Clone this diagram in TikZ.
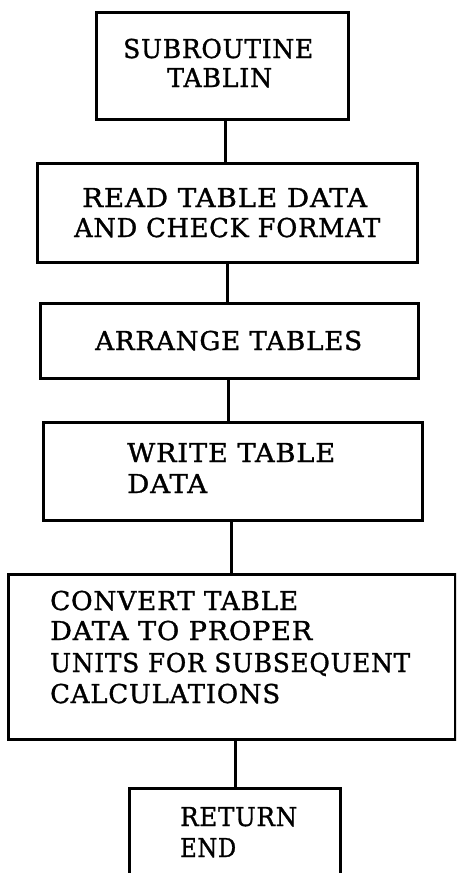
\documentclass[tikz,border=0pt]{standalone}
\usepackage{graphicx}
\usepackage{fontspec}
\setmainfont{DejaVu Serif}[LetterSpace=3, FakeBold=1.2]
% set a line of text to a given width, keeping its height
\newcommand\fitw[2]{\resizebox{#1pt}{\height}{#2}}
\begin{document}
\begin{tikzpicture}[x=1pt,y=-1pt]
\tikzset{
  flowbox/.style={draw=black, line width=3pt, inner sep=0pt, rectangle},
  caption/.style={inner sep=0pt, font=\fontsize{26}{31}\selectfont},
  link/.style={draw=black, line width=3pt}
}
\useasboundingbox (0,0) rectangle (456,873);
\clip (0,0) rectangle (456,873);

% boxes of the flow
\node[flowbox, minimum width=252, minimum height=107] (b1) at (222,65.5) {};
\node[flowbox, minimum width=380, minimum height=99]  (b2) at (227,212.5) {};
\node[flowbox, minimum width=378, minimum height=75]  (b3) at (229,340.5) {};
\node[flowbox, minimum width=379, minimum height=98]  (b4) at (232.5,471) {};
\node[flowbox, minimum width=447, minimum height=165] (b5) at (231.5,656.5) {};
% the last box runs off the lower edge of the sheet
\node[flowbox, minimum width=211, minimum height=102] (b6) at (234.5,839) {};

% labels
\node[caption, anchor=base west] (t1a) at (123,58)  {\fitw{190}{SUBROUTINE}};
\node[caption, anchor=base west] (t1b) at (167,87)  {\fitw{105}{TABLIN}};
\node[caption, anchor=base west] (t2a) at (82,207)  {\fitw{285}{READ TABLE DATA}};
\node[caption, anchor=base west] (t2b) at (74,237)  {\fitw{306}{AND CHECK FORMAT}};
\node[caption, anchor=base west] (t3a) at (95,350)  {\fitw{267}{ARRANGE TABLES}};
\node[caption, anchor=base west] (t4a) at (127,462) {\fitw{208}{WRITE TABLE}};
\node[caption, anchor=base west] (t4b) at (127,493) {\fitw{80}{DATA}};
\node[caption, anchor=base west] (t5a) at (50,610)  {\fitw{248}{CONVERT TABLE}};
\node[caption, anchor=base west] (t5b) at (50,640)  {\fitw{262}{DATA TO PROPER}};
\node[caption, anchor=base west] (t5c) at (50,672)  {\fitw{360}{UNITS FOR SUBSEQUENT}};
\node[caption, anchor=base west] (t5d) at (50,703)  {\fitw{230}{CALCULATIONS}};
\node[caption, anchor=base west] (t6a) at (180,826) {\fitw{117}{RETURN}};
\node[caption, anchor=base west] (t6b) at (180,857) {\fitw{56}{END}};

% connectors
\draw[link] ([xshift=3pt]b1.south) -- ([xshift=3pt]b1.south |- b2.north);
\draw[link] (b2.south) -- (b2.south |- b3.north);
\draw[link] ([xshift=-1pt]b3.south) -- ([xshift=-1pt]b3.south |- b4.north);
\draw[link] ([xshift=-1.5pt]b4.south) -- ([xshift=-1.5pt]b4.south |- b5.north);
\draw[link] ([xshift=3.5pt]b5.south) -- ([xshift=3.5pt]b5.south |- b6.north);
\end{tikzpicture}
\end{document}
